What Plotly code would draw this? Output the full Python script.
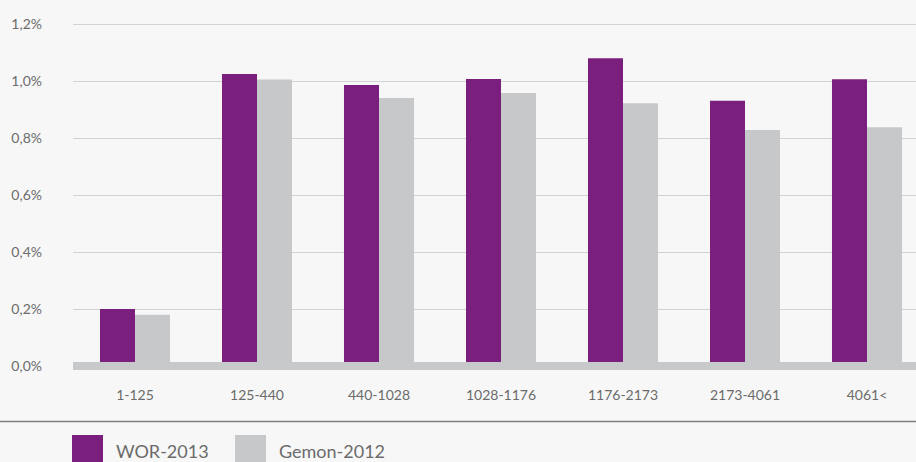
import plotly.graph_objects as go

# Size classes and shares (in percent) for the two surveys
categories = ["1-125", "125-440", "440-1028", "1028-1176", "1176-2173", "2173-4061", "4061<"]
series_names = ["WOR-2013", "Gemon-2012"]
wor_2013 = [0.20, 1.025, 0.986, 1.007, 1.08, 0.931, 1.006]
gemon_2012 = [0.18, 1.005, 0.94, 0.958, 0.922, 0.828, 0.838]
y_ticks = [0.0, 0.2, 0.4, 0.6, 0.8, 1.0, 1.2]
y_tick_labels = [f"{v:.1f}".replace(".", ",") + "%" for v in y_ticks]

PURPLE = "#7b1f7f"
GREY = "#c7c8ca"
BG = "#f7f7f7"
TEXT = "#6b6b6b"
FONT = "Lato"

W, H = 916, 462
ML, MR, MT, MB = 73, 0, 18, 87
PW, PH = W - ML - MR, H - MT - MB


def px_x(x):
    return (x - ML) / PW


def px_y(y):
    return (H - MB - y) / PH


fig = go.Figure()
fig.add_trace(go.Bar(x=categories, y=wor_2013, name=series_names[0],
                     marker=dict(color=PURPLE, line=dict(width=0))))
fig.add_trace(go.Bar(x=categories, y=gemon_2012, name=series_names[1],
                     marker=dict(color=GREY, line=dict(width=0))))

# thick baseline across the plot at zero
fig.add_shape(type="line", xref="paper", yref="y", x0=0, x1=1, y0=0, y1=0,
              line=dict(color="#c8c9cb", width=8), layer="above")
# separator rule above the legend
fig.add_shape(type="line", xref="paper", yref="paper", x0=px_x(0), x1=1,
              y0=px_y(421.5), y1=px_y(421.5), line=dict(color="#7f7f7f", width=1.5))

# legend: large swatches with labels
legend_items = [(series_names[0], PURPLE, 72, 114), (series_names[1], GREY, 235, 277)]
for name, color, sx, tx in legend_items:
    fig.add_shape(type="rect", xref="paper", yref="paper",
                  x0=px_x(sx), x1=px_x(sx + 31), y0=px_y(435), y1=px_y(463),
                  fillcolor=color, line=dict(width=0))
    fig.add_annotation(xref="paper", yref="paper", x=px_x(tx), y=px_y(451),
                       xanchor="left", yanchor="middle", text=name, showarrow=False,
                       font=dict(family=FONT, size=18, color=TEXT))

cat_w = PW / 122.0
x0 = -(135 - ML) / 122.0

fig.update_layout(
    width=W, height=H,
    margin=dict(l=ML, r=MR, t=MT, b=MB, pad=0),
    paper_bgcolor=BG, plot_bgcolor=BG,
    barmode="group", bargap=0.426, bargroupgap=0,
    showlegend=False,
    font=dict(family=FONT, color=TEXT),
    xaxis=dict(range=[x0, x0 + cat_w], showgrid=False, zeroline=False, showline=False,
               ticks="", tickfont=dict(size=14, color=TEXT), ticklabelstandoff=10),
    yaxis=dict(range=[(366 - (H - MB)) / 285.0, (366 - MT) / 285.0],
               tickvals=y_ticks, ticktext=y_tick_labels,
               showgrid=True, gridcolor="#d2d2d2", gridwidth=1,
               zeroline=False, showline=False, ticks="",
               tickfont=dict(size=14, color=TEXT), ticklabelstandoff=30),
)

fig.write_html("out.html")
